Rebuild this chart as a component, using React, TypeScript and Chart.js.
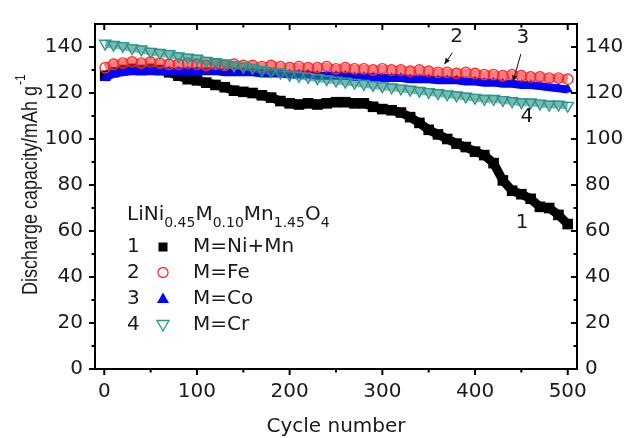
import React, { useEffect, useRef } from 'react';
import { Chart, registerables } from 'chart.js';

Chart.register(...registerables);

// ---- data ----
const cycles = [1, 10, 20, 30, 40, 50, 60, 70, 80, 90, 100, 110, 120, 130, 140, 150, 160, 170, 180, 190, 200,
  210, 220, 230, 240, 250, 260, 270, 280, 290, 300, 310, 320, 330, 340, 350, 360, 370, 380, 390, 400,
  410, 420, 430, 440, 450, 460, 470, 480, 490, 500];

const capNiMn = [127.5, 129, 130, 130.5, 130, 130.5, 130, 129, 127.5, 126, 125.5, 124.5, 123.5, 122.5, 121, 120.5, 120, 119, 118, 116.5, 115.5,
  115, 115.5, 115, 115.5, 116, 116, 115.5, 115.5, 114, 113, 112.5, 111.5, 109.5, 107, 104, 102, 100, 98, 96.5, 94.5,
  93, 89.5, 82, 77.5, 76, 74, 70.5, 70, 67, 63];

const capFe = [131, 132.5, 133, 133.5, 133, 133.5, 133, 132.5, 132.5, 133, 132.5, 132, 132.5, 132, 132.5, 132, 132, 131.5, 132, 131.5, 131,
  131.5, 131, 131, 131.5, 130.5, 131, 130.5, 130.5, 130, 130.5, 130, 130, 129.5, 130, 129.5, 129, 129, 128.5, 129, 128.5,
  128, 128, 127.5, 128, 127.5, 127, 127, 126.5, 126.5, 126];

const capCo = [126.5, 128.5, 129, 129.5, 129.5, 129.5, 129.5, 129.5, 129.5, 129.5, 129.5, 129.5, 129.5, 129, 129, 129, 129, 128.5, 128.5, 128.5, 128,
  128, 128, 127.5, 127.5, 127.5, 127.5, 127, 127, 127, 126.5, 126.5, 126.5, 126, 126, 126, 125.5, 125.5, 125.5, 125, 125,
  124.5, 124.5, 124, 124, 123.5, 123.5, 123, 122.5, 122, 121.5];

const capCr = [141.5, 141, 140.5, 139.5, 139, 138, 137.5, 137, 136, 135.5, 135, 134, 133.5, 133, 132, 131.5, 131, 130, 129.5, 129, 128,
  127.5, 127, 126.5, 126, 125.5, 125, 124.5, 124, 123.5, 123, 122.5, 122, 121.5, 121, 120.5, 120, 119.5, 119, 118.5, 118,
  117.5, 117.5, 117, 116.5, 116, 116, 115.5, 115, 115, 114.5];

const xTicks = [0, 100, 200, 300, 400, 500];
const yTicks = [0, 20, 40, 60, 80, 100, 120, 140];

const seriesNumbers = ['1', '2', '3', '4'];
const seriesLabels = ['M=Ni+Mn', 'M=Fe', 'M=Co', 'M=Cr'];
const seriesColors = ['#000000', '#ff2a2a', '#0000ff', '#2b968a'];
const bandColors = ['#000000', 'rgba(255,40,40,0.6)', '#0000ff', 'rgba(35,140,128,0.6)'];

// annotation numbers: [text, cycle, capacity]
const annotations: [string, number, number][] = [
  ['2', 380, 144.5],
  ['3', 451.6, 144],
  ['4', 456, 109.5],
  ['1', 450.7, 63.5],
];
// arrows: [fromCycle, fromCap, toCycle, toCap]
const arrows: [number, number, number, number][] = [
  [375.5, 137.5, 367, 132.5],
  [449.5, 137, 440.9, 125],
];

const FONT = "'DejaVu Sans', sans-serif";
const TEXT = '#1a1a1a';

function pts(ys: number[]) {
  return cycles.map((c, i) => ({ x: c, y: ys[i] }));
}

function drawMarker(ctx: CanvasRenderingContext2D, kind: number, x: number, y: number) {
  ctx.save();
  if (kind === 0) {
    ctx.fillStyle = seriesColors[0];
    ctx.fillRect(x - 4.5, y - 4.5, 9, 9);
  } else if (kind === 1) {
    ctx.strokeStyle = seriesColors[1];
    ctx.lineWidth = 1.3;
    ctx.beginPath();
    ctx.arc(x, y, 5, 0, Math.PI * 2);
    ctx.stroke();
  } else if (kind === 2) {
    ctx.fillStyle = seriesColors[2];
    ctx.beginPath();
    ctx.moveTo(x, y - 6);
    ctx.lineTo(x + 6, y + 4.5);
    ctx.lineTo(x - 6, y + 4.5);
    ctx.closePath();
    ctx.fill();
  } else {
    ctx.strokeStyle = seriesColors[3];
    ctx.lineWidth = 1.3;
    ctx.beginPath();
    ctx.moveTo(x, y + 6);
    ctx.lineTo(x + 6, y - 4.5);
    ctx.lineTo(x - 6, y - 4.5);
    ctx.closePath();
    ctx.stroke();
  }
  ctx.restore();
}

const decorPlugin = {
  id: 'decor',
  afterDraw(chart: any) {
    const ctx: CanvasRenderingContext2D = chart.ctx;
    const { left, right, top, bottom } = chart.chartArea;
    const xs = chart.scales.x;
    const ys = chart.scales.y;
    ctx.save();
    ctx.strokeStyle = '#000';
    ctx.lineWidth = 2;
    ctx.strokeRect(left, top, right - left, bottom - top);

    // x ticks (major + minor), bottom outward, top mirrored (pointing down)
    const xStep = xTicks[1] - xTicks[0];
    for (let v = xTicks[0]; v <= xTicks[xTicks.length - 1] + 1e-6; v += xStep / 2) {
      const major = Math.abs(v % xStep) < 1e-6;
      const len = major ? 6 : 3.5;
      const px = xs.getPixelForValue(v);
      ctx.beginPath();
      ctx.moveTo(px, bottom);
      ctx.lineTo(px, bottom + len);
      ctx.moveTo(px, top);
      ctx.lineTo(px, top + len);
      ctx.stroke();
    }
    // y ticks: left outward, right mirrored (pointing left)
    const yStep = yTicks[1] - yTicks[0];
    for (let v = yTicks[0]; v <= yTicks[yTicks.length - 1] + yStep / 2 - 1; v += yStep / 2) {
      const major = Math.abs(v % yStep) < 1e-6;
      const len = major ? 6 : 3.5;
      const py = ys.getPixelForValue(v);
      ctx.beginPath();
      ctx.moveTo(left - len, py);
      ctx.lineTo(left, py);
      ctx.moveTo(right - len, py);
      ctx.lineTo(right, py);
      ctx.stroke();
    }

    // y axis title with superscript (slightly widened like the reference)
    ctx.fillStyle = TEXT;
    ctx.save();
    ctx.translate(37, 295);
    ctx.rotate(-Math.PI / 2);
    ctx.scale(1, 1.2);
    ctx.font = "18px 'Liberation Sans', Arial, sans-serif";
    ctx.textAlign = 'left';
    ctx.textBaseline = 'alphabetic';
    const main = 'Discharge capacity/mAh g';
    ctx.fillText(main, 0, 0);
    const w = ctx.measureText(main).width;
    ctx.font = "12px 'Liberation Sans', Arial, sans-serif";
    ctx.fillText('-1', w + 1, -10);
    ctx.restore();

    // legend block
    let x = 127;
    const baseY = 220;
    const parts: [string, boolean][] = [
      ['LiNi', false], ['0.45', true], ['M', false], ['0.10', true],
      ['Mn', false], ['1.45', true], ['O', false], ['4', true],
    ];
    ctx.textAlign = 'left';
    ctx.textBaseline = 'alphabetic';
    for (const [t, sub] of parts) {
      ctx.font = sub ? `14px ${FONT}` : `20px ${FONT}`;
      ctx.fillText(t, x, sub ? baseY + 7 : baseY);
      x += ctx.measureText(t).width;
    }
    const rowY = [247, 272.5, 298.5, 325];
    ctx.font = `20px ${FONT}`;
    ctx.textBaseline = 'middle';
    for (let i = 0; i < 4; i++) {
      ctx.fillStyle = TEXT;
      ctx.fillText(seriesNumbers[i], 127, rowY[i]);
      ctx.fillText(seriesLabels[i], 193, rowY[i]);
      drawMarker(ctx, i, 163, rowY[i]);
    }

    // annotations
    ctx.fillStyle = TEXT;
    ctx.textAlign = 'center';
    ctx.textBaseline = 'middle';
    ctx.font = `20px ${FONT}`;
    for (const [t, cx, cy] of annotations) {
      ctx.fillText(t, xs.getPixelForValue(cx), ys.getPixelForValue(cy));
    }
    ctx.strokeStyle = '#111';
    ctx.lineWidth = 1;
    for (const [x1, y1, x2, y2] of arrows) {
      const ax = xs.getPixelForValue(x1), ay = ys.getPixelForValue(y1);
      const bx = xs.getPixelForValue(x2), by = ys.getPixelForValue(y2);
      ctx.beginPath();
      ctx.moveTo(ax, ay);
      ctx.lineTo(bx, by);
      ctx.stroke();
      const ang = Math.atan2(by - ay, bx - ax);
      const hl = 6, hw = 2.6;
      ctx.beginPath();
      ctx.moveTo(bx, by);
      ctx.lineTo(bx - hl * Math.cos(ang) + hw * Math.sin(ang), by - hl * Math.sin(ang) - hw * Math.cos(ang));
      ctx.lineTo(bx - hl * Math.cos(ang) - hw * Math.sin(ang), by - hl * Math.sin(ang) + hw * Math.cos(ang));
      ctx.closePath();
      ctx.fillStyle = '#111';
      ctx.fill();
    }
    ctx.restore();
  },
};

export default function App() {
  const ref = useRef<HTMLCanvasElement>(null);
  useEffect(() => {
    document.body.style.margin = '0';
    const canvas = ref.current!;
    Chart.defaults.font.family = FONT;
    Chart.defaults.color = TEXT;
    const setTicks = (vals: number[]) => (s: any) => {
      s.ticks = vals.map((v) => ({ value: v }));
    };
    const chart = new Chart(canvas, {
      type: 'scatter',
      data: {
        datasets: [
          {
            label: seriesLabels[0],
            data: pts(capNiMn),
            showLine: true,
            borderColor: bandColors[0],
            borderWidth: 9,
            pointStyle: 'rect',
            pointRadius: 7.5,
            pointBackgroundColor: seriesColors[0],
            pointBorderWidth: 0,
            order: 3,
          },
          {
            label: seriesLabels[1],
            data: pts(capFe),
            showLine: true,
            borderColor: bandColors[1],
            borderWidth: 8,
            pointStyle: 'circle',
            pointRadius: 5.2,
            pointBackgroundColor: 'rgba(255,255,255,0)',
            pointBorderColor: seriesColors[1],
            pointBorderWidth: 1.4,
            order: 1,
          },
          {
            label: seriesLabels[2],
            data: pts(capCo),
            showLine: true,
            borderColor: bandColors[2],
            borderWidth: 8,
            pointStyle: 'triangle',
            pointRadius: 6,
            pointBackgroundColor: seriesColors[2],
            pointBorderWidth: 0,
            order: 2,
          },
          {
            label: seriesLabels[3],
            data: pts(capCr),
            showLine: true,
            borderColor: bandColors[3],
            borderWidth: 8,
            pointStyle: 'triangle',
            pointRotation: 180,
            pointRadius: 6.5,
            pointBackgroundColor: 'rgba(255,255,255,0)',
            pointBorderColor: seriesColors[3],
            pointBorderWidth: 1.4,
            order: 0,
          },
        ],
      },
      options: {
        animation: false,
        responsive: false,
        devicePixelRatio: 1,
        layout: { padding: { top: 16, left: 0, right: 0, bottom: 0 } },
        plugins: { legend: { display: false }, tooltip: { enabled: false } },
        scales: {
          x: {
            type: 'linear',
            position: 'bottom',
            min: -10,
            max: 510,
            grid: { display: false, drawTicks: false },
            border: { display: false },
            ticks: { padding: 11, font: { size: 20, family: FONT }, color: TEXT },
            afterBuildTicks: setTicks(xTicks),
            afterFit: (s: any) => { s.height = 69; },
            title: {
              display: true,
              text: 'Cycle number',
              font: { size: 20, family: FONT, lineHeight: 1 },
              color: TEXT,
              padding: { top: 0, bottom: 1 },
            },
          },
          y: {
            type: 'linear',
            position: 'left',
            min: 0,
            max: 150,
            grid: { display: false, drawTicks: false },
            border: { display: false },
            ticks: { padding: 12, font: { size: 20, family: FONT }, color: TEXT },
            afterBuildTicks: setTicks(yTicks),
            afterFit: (s: any) => { s.width = 95; },
          },
          y2: {
            type: 'linear',
            position: 'right',
            min: 0,
            max: 150,
            grid: { display: false, drawTicks: false },
            border: { display: false },
            ticks: { padding: 8, font: { size: 20, family: FONT }, color: TEXT },
            afterBuildTicks: setTicks(yTicks),
            afterFit: (s: any) => { s.width = 47; },
          },
        },
      },
      plugins: [decorPlugin],
    } as any);
    return () => chart.destroy();
  }, []);
  return (
    <div style={{ width: 624, height: 438, background: '#fff' }}>
      <canvas ref={ref} width={624} height={438} style={{ display: 'block' }} />
    </div>
  );
}
